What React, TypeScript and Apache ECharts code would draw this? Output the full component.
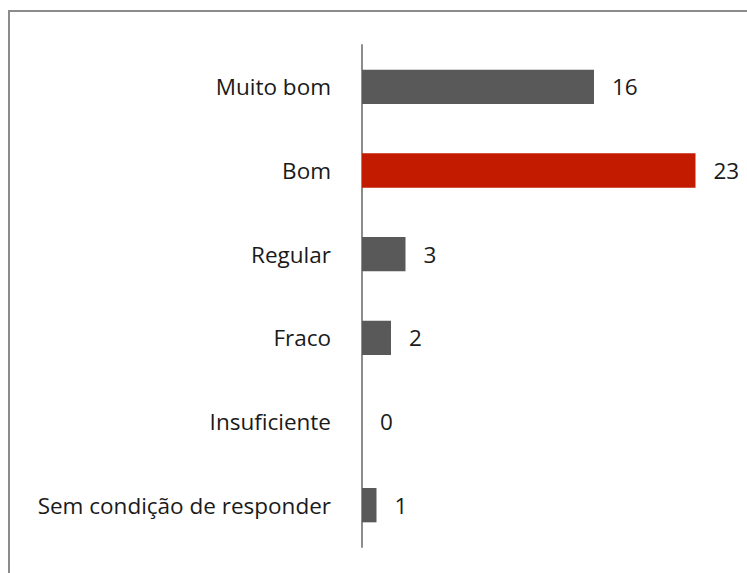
import React, { useEffect, useRef } from "react";
import * as echarts from "echarts";

const categories = [
  "Muito bom",
  "Bom",
  "Regular",
  "Fraco",
  "Insuficiente",
  "Sem condição de responder",
];
const values = [16, 23, 3, 2, 0, 1];
const barColors = ["#595959", "#C21B00", "#595959", "#595959", "#595959", "#595959"];

export default function App() {
  const ref = useRef<HTMLDivElement>(null);
  useEffect(() => {
    if (!ref.current) return;
    const chart = echarts.init(ref.current, undefined, { renderer: "svg" });
    const font = "'Open Sans', sans-serif";
    chart.setOption({
      animation: false,
      backgroundColor: "#ffffff",
      graphic: [
        {
          type: "rect",
          shape: { x: 9, y: 11, width: 800, height: 700 },
          style: { fill: "none", stroke: "#8c8c8c", lineWidth: 2 },
          silent: true,
        },
      ],
      grid: { left: 362, right: 37, top: 45, bottom: 26, containLabel: false },
      xAxis: {
        type: "value",
        min: 0,
        max: 24,
        show: false,
        splitLine: { show: false },
      },
      yAxis: {
        type: "category",
        inverse: true,
        data: categories,
        axisLine: { show: true, lineStyle: { color: "#8c8c8c", width: 2 } },
        axisTick: { show: false },
        axisLabel: {
          margin: 31,
          color: "#1a1a1a",
          fontSize: 22.5,
          fontFamily: font,
        },
      },
      series: [
        {
          type: "bar",
          data: values.map((v, i) => ({ value: v, itemStyle: { color: barColors[i] } })),
          barWidth: "41%",
          label: {
            show: true,
            position: "right",
            distance: 18,
            color: "#1a1a1a",
            fontSize: 22.5,
            fontFamily: font,
          },
        },
      ],
    });
    return () => chart.dispose();
  }, []);
  return (
    <div
      ref={ref}
      style={{ position: "fixed", left: 0, top: 0, width: 747, height: 573 }}
    />
  );
}
